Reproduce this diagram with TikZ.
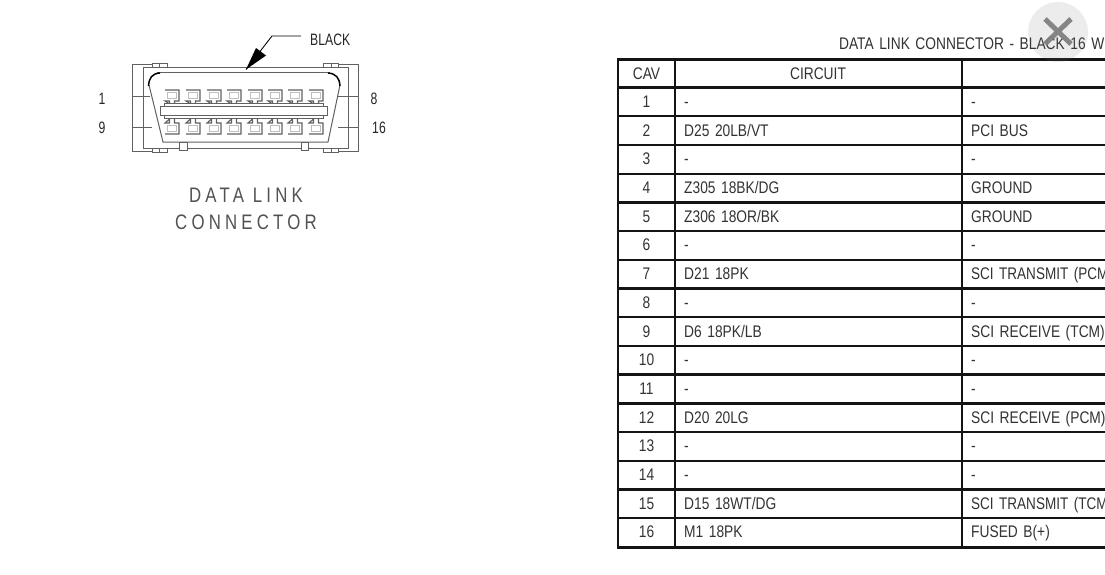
\documentclass[tikz,border=0pt]{standalone}
\usepackage{fontspec}
\setmainfont{Liberation Sans}
\newfontfamily\tablefont[FakeStretch=0.82,WordSpace=1.45]{Liberation Sans}
\newfontfamily\fitfont[FakeStretch=0.805,WordSpace=1.45]{Liberation Sans}
\newfontfamily\smallfont[FakeStretch=0.74]{Liberation Sans}
\newfontfamily\spaced[FakeStretch=0.8,LetterSpace=20]{Liberation Sans}
\tikzset{
  x=1pt,y=-1pt,
  ink/.style={draw=black!62,line width=1pt},
  pinline/.style={draw=black!62,line width=1.1pt},
  pinfaint/.style={draw=black!25,line width=0.9pt},
  grid/.style={draw=black!92,line width=2.4pt},
  cell/.style={font=\fontsize{16.8}{18}\selectfont\tablefont,text=black!80,inner sep=0pt},
  cavcell/.style={cell,anchor=base},
  leftcell/.style={cell,anchor=base west},
  small/.style={font=\fontsize{16.5}{18}\selectfont\smallfont,text=black!85,inner sep=0pt,anchor=base},
  biglabel/.style={font=\fontsize{21}{24}\selectfont\spaced,text=black!68,inner sep=0pt,anchor=base},
}
\newcommand{\toppin}[1]{%
  \draw[pinline] (#1-7,90) -- (#1+7,90) -- (#1+7,101) -- (#1+2.5,101) -- (#1+2.5,104) (#1-2.5,104) -- (#1-2.5,101) -- (#1-7,101) -- cycle;
  \draw[pinfaint] (#1-4.5,92.5) rectangle (#1+4.5,98.5);
}
\newcommand{\botpin}[1]{%
  \draw[pinline] (#1-7,134) -- (#1+7,134) -- (#1+7,123) -- (#1+2.5,123) -- (#1+2.5,119) (#1-2.5,119) -- (#1-2.5,123) -- (#1-7,123) -- cycle;
  \draw[pinfaint] (#1-4.5,125.5) rectangle (#1+4.5,131.5);
}
\begin{document}
\begin{tikzpicture}
\useasboundingbox (0,0) rectangle (1105,575);
\clip (0,0) rectangle (1105,575);
\fill[white] (0,0) rectangle (1105,575);

% ---- connector drawing
\draw[ink] (152,65) -- (132,65) -- (132,151) -- (152,151);
\draw[ink] (338,65) -- (358,65) -- (358,151) -- (338,151);
\draw[ink] (152,64) rectangle (167,68);
\draw[ink] (323,64) rectangle (338,68);
\draw[ink] (152,148) rectangle (167,152);
\draw[ink] (323,148) rectangle (338,152);
\draw[ink] (159,64) -- (159,68) (159,148) -- (159,152) (331,64) -- (331,68) (331,148) -- (331,152);
\draw[ink] (143,68) rectangle (348,148);
\draw[ink] (132,96.5) -- (150,96.5) (132,127.5) -- (152,127.5);
\draw[ink] (338,96.5) -- (358,96.5) (338,127.5) -- (358,127.5);
\draw[ink] (149,85) -- (163,142) -- (328,142) -- (340,85);
\draw[ink] (157,73) -- (330,73);
\draw[draw=black,line width=1.5pt] (148.5,86) .. controls (149,78) and (152,73.5) .. (160,73);
\draw[draw=black,line width=1.5pt] (340,86) .. controls (339.5,78) and (336,73.5) .. (328,73);
\draw[ink,fill=white] (179,142) rectangle (187,150);
\draw[ink,fill=white] (301,142) rectangle (308,150);
\foreach \cx in {172,193,214,234,255,275,295,316} {
  \toppin{\cx}
  \botpin{\cx}
}
\draw[ink,fill=white] (164,104) rectangle (323,119);
\draw[ink,fill=white] (160,107) rectangle (327,116);

\node[small,anchor=base west] (blacklabel) at (310,46) {BLACK};
\coordinate (elbow) at (272,36);
\coordinate (leaderend) at (301,36);
\coordinate (arrowtip) at (246,69.5);
\draw[draw=black,line width=0.9pt] (leaderend) -- (elbow) -- (arrowtip);
\fill[black] (arrowtip) -- (256,48) -- (266,55.5) -- cycle;

\node[small] (n1) at (102,105) {1};
\node[small] (n9) at (102,133) {9};
\node[small] (n8) at (374,105) {8};
\node[small] (n16) at (379,133) {16};
\node[biglabel] (dl1) at (246,202) {DATA LINK};
\node[biglabel] (dl2) at (246,229) {CONNECTOR};

% ---- table
\node[cell,anchor=base east] (title) at (1104.5,50) {DATA LINK CONNECTOR - BLACK 16 W};
\draw[grid] (1106,59.5) -- (618,59.5) -- (618,547.5) -- (1106,547.5);
\draw[grid] (675,59.5) -- (675,547.5);
\draw[grid] (962,59.5) -- (962,547.5);
\foreach \r in {0,...,15} {
  \draw[grid] (618,{87.6+28.7*\r}) -- (1106,{87.6+28.7*\r});
}
\node[cavcell] (hcav) at (646.5,79.5) {CAV};
\node[cavcell] (hcir) at (818,79.5) {CIRCUIT};
\foreach \r/\c/\f in {
  1/-/-,
  2/D25 20LB\slash VT/PCI BUS,
  3/-/-,
  4/Z305 18BK\slash DG/GROUND,
  5/Z306 18OR\slash BK/GROUND,
  6/-/-,
  7/D21 18PK/\fitfont SCI TRANSMIT (PCM,
  8/-/-,
  9/D6 18PK\slash LB/SCI RECEIVE (TCM),
  10/-/-,
  11/-/-,
  12/D20 20LG/SCI RECEIVE (PCM),
  13/-/-,
  14/-/-,
  15/D15 18WT\slash DG/\fitfont SCI TRANSMIT (TCM,
  16/M1 18PK/FUSED B(+)} {
  \pgfmathsetmacro{\yy}{87.6+28.7*(\r-0.5)+5.5}
  \node[cavcell] (cav\r) at (646.5,\yy) {\r};
  \node[leftcell] (cir\r) at (684,\yy) {\c};
  \node[leftcell] (fun\r) at (971,\yy) {\f};
}

% ---- close overlay
\fill[black!55,opacity=0.13] (1058,32) circle (30);
\draw[black!50,line width=5pt,opacity=0.95] (1045,19) -- (1071,44) (1071,19) -- (1045,44);
\end{tikzpicture}
\end{document}
